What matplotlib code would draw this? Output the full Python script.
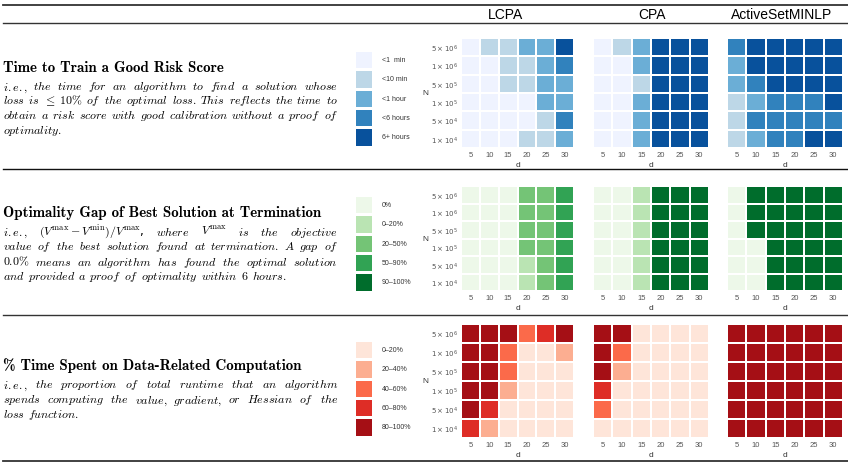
import numpy as np
import matplotlib
matplotlib.use("Agg")
import matplotlib.pyplot as plt
from matplotlib.colors import ListedColormap
from matplotlib.lines import Line2D

W, H, DPI = 848, 464, 100
SANS = "Liberation Sans"
GRAY = "#555555"

# ── Data (rows top→bottom: N = 5e6 … 1e4, columns d = 5 … 30) ────────
methods = ["LCPA", "CPA", "ActiveSetMINLP"]
d_values = [5, 10, 15, 20, 25, 30]
n_labels = [r"$5\times10^6$", r"$1\times10^6$", r"$5\times10^5$",
            r"$1\times10^5$", r"$5\times10^4$", r"$1\times10^4$"]

time_lcpa = [[0, 1, 1, 2, 2, 4],
             [0, 0, 1, 1, 2, 3],
             [0, 0, 1, 1, 2, 2],
             [0, 0, 0, 0, 2, 2],
             [0, 0, 0, 0, 1, 3],
             [0, 0, 0, 1, 1, 2]]
time_cpa = [[0, 1, 2, 4, 4, 4],
            [0, 0, 2, 4, 4, 4],
            [0, 0, 1, 4, 4, 4],
            [0, 0, 2, 4, 4, 4],
            [0, 0, 2, 4, 4, 4],
            [0, 0, 2, 4, 4, 4]]
time_asm = [[3, 4, 4, 4, 4, 4],
            [2, 4, 4, 4, 4, 4],
            [2, 3, 4, 4, 4, 4],
            [1, 2, 3, 3, 3, 4],
            [1, 3, 3, 3, 3, 3],
            [1, 2, 3, 3, 4, 4]]

gap_lcpa = [[0, 0, 0, 2, 2, 3],
            [0, 0, 0, 2, 2, 3],
            [0, 0, 0, 2, 2, 3],
            [0, 0, 0, 2, 2, 3],
            [0, 0, 0, 1, 2, 3],
            [0, 0, 0, 1, 2, 3]]
gap_cpa = [[0, 0, 1, 4, 4, 4],
           [0, 0, 1, 4, 4, 4],
           [0, 0, 1, 4, 4, 4],
           [0, 0, 1, 4, 4, 4],
           [0, 0, 1, 4, 4, 4],
           [0, 0, 1, 4, 4, 4]]
gap_asm = [[0, 4, 4, 4, 4, 4],
           [0, 4, 4, 4, 4, 4],
           [0, 4, 4, 4, 4, 4],
           [0, 0, 4, 4, 4, 4],
           [0, 0, 4, 4, 4, 4],
           [0, 0, 4, 4, 4, 4]]

data_lcpa = [[4, 4, 4, 2, 3, 4],
             [4, 4, 2, 0, 0, 1],
             [4, 4, 2, 0, 0, 0],
             [4, 4, 1, 0, 0, 0],
             [4, 3, 0, 0, 0, 0],
             [3, 1, 0, 0, 0, 0]]
data_cpa = [[4, 4, 0, 0, 0, 0],
            [4, 2, 0, 0, 0, 0],
            [4, 1, 0, 0, 0, 0],
            [3, 0, 0, 0, 0, 0],
            [2, 0, 0, 0, 0, 0],
            [0, 0, 0, 0, 0, 0]]
data_asm = [[4] * 6 for _ in range(6)]

time_levels = ["<1  min", "<10 min", "<1 hour", "<6 hours", "6+ hours"]
gap_levels = ["0%", "0\u201320%", "20\u201350%", "50\u201390%", "90\u2013100%"]
data_levels = ["0\u201320%", "20\u201340%", "40\u201360%", "60\u201380%", "80\u2013100%"]

BLUES = ["#eff3ff", "#bdd7e7", "#6baed6", "#3182bd", "#08519c"]
GREENS = ["#edf8e9", "#bae4b3", "#74c476", "#31a354", "#006d2c"]
REDS = ["#fee5d9", "#fcae91", "#fb6a4a", "#de2d26", "#a50f15"]

titles = ["Time to Train a Good Risk Score",
          "Optimality Gap of Best Solution at Termination",
          "% Time Spent on Data-Related Computation"]

# description words; "$...$" tokens are upright math, others italic
desc = [
    [["i.e.,", "the", "time", "for", "an", "algorithm", "to", "find", "a", "solution", "whose"],
     ["loss", "is", r"$\leq\;10\%$", "of", "the", "optimal", "loss.", "This", "reflects", "the", "time", "to"],
     ["obtain", "a", "risk", "score", "with", "good", "calibration", "without", "a", "proof", "of"],
     ["optimality."]],
    [["i.e.,", r"$(V^{\mathrm{max}} - V^{\mathrm{min}})/V^{\mathrm{max}}$,", "where",
      r"$V^{\mathrm{max}}$", "is", "the", "objective"],
     ["value", "of", "the", "best", "solution", "found", "at", "termination.", "A", "gap", "of"],
     ["0.0%", "means", "an", "algorithm", "has", "found", "the", "optimal", "solution"],
     ["and", "provided", "a", "proof", "of", "optimality", "within", "6", "hours."]],
    [["i.e.,", "the", "proportion", "of", "total", "runtime", "that", "an", "algorithm"],
     ["spends", "computing", "the", "value,", "gradient,", "or", "Hessian", "of", "the"],
     ["loss", "function."]],
]

# ── Layout (pixels, top-left origin) ─────────────────────────────────
col_x = [(461, 574), (593, 709), (727, 843)]
row_y = [(39, 149), (187, 292), (325, 439)]
title_y = [68, 213, 366]
line_y = [[87, 101, 116, 131], [232, 247, 262, 277], [385, 400, 415]]
legend_y0 = [51, 196, 341]
header_x = [505, 652, 782]


def rect(x0, y0, x1, y1):
    return [x0 / W, 1 - y1 / H, (x1 - x0) / W, (y1 - y0) / H]


fig = plt.figure(figsize=(W / DPI, H / DPI), dpi=DPI, facecolor="white")
renderer = fig.canvas.get_renderer()


def hline(y, color="#333333", lw=1.2):
    fig.add_artist(Line2D([3 / W, 1], [1 - y / H] * 2, transform=fig.transFigure,
                          color=color, lw=lw))


def word_text(w, size):
    if "$" in w:
        return fig.text(0, 0, w, fontsize=size, math_fontfamily="cm", va="baseline")
    s = w.replace("%", r"\%")
    return fig.text(0, 0, r"$\mathit{" + s + "}$", fontsize=size,
                    math_fontfamily="cm", va="baseline")


def justified(words, x0, x1, y, size, last):
    objs = [word_text(w, size) for w in words]
    widths = [o.get_window_extent(renderer).width for o in objs]
    if last or len(words) == 1:
        gap = 3.0
    else:
        gap = (x1 - x0 - sum(widths)) / (len(words) - 1)
    x = x0
    for o, w in zip(objs, widths):
        o.set_position((x / W, 1 - y / H))
        x += w + gap


def heatmap(x, y, vals, colors, first):
    ax = fig.add_axes(rect(x[0], y[0], x[1], y[1]))
    ax.pcolormesh(np.asarray(vals), cmap=ListedColormap(colors), vmin=-0.5, vmax=4.5,
                  edgecolors="white", linewidth=1.2)
    ax.set_xlim(0, 6)
    ax.set_ylim(6, 0)
    for s in ax.spines.values():
        s.set_visible(False)
    ax.set_xticks(np.arange(6) + 0.5)
    ax.set_xticklabels(d_values, fontsize=5.5, color=GRAY, family=SANS)
    ax.set_xlabel("d", fontsize=6, color="#333333", family=SANS, labelpad=2)
    ax.tick_params(length=0, pad=2)
    if first:
        ax.set_yticks(np.arange(6) + 0.5)
        ax.set_yticklabels(n_labels, fontsize=5, color=GRAY, math_fontfamily="dejavusans")
        ax.set_ylabel("N", fontsize=6, color="#333333", family=SANS, rotation=0,
                      labelpad=4, va="center")
    else:
        ax.set_yticks([])


def legend(y0, colors, labels):
    ax = fig.add_axes(rect(354, y0, 373, y0 + 19.3 * 5))
    ax.pcolormesh(np.arange(len(colors)).reshape(-1, 1), cmap=ListedColormap(colors),
                  vmin=-0.5, vmax=4.5, edgecolors="white", linewidth=1.0)
    ax.set_ylim(len(colors), 0)
    ax.axis("off")
    for i, lab in enumerate(labels):
        fig.text(382 / W, 1 - (y0 + 19.3 * (i + 0.5)) / H, lab, fontsize=5,
                 family=SANS, color="#333333", va="center", ha="left")


# ── Rules and headers ────────────────────────────────────────────────
hline(6, lw=1.3)
hline(24, lw=1.0)
hline(170, color="#111111", lw=1.0)
hline(316, lw=1.0)
hline(462, lw=1.3)
for m, hx in zip(methods, header_x):
    fig.text(hx / W, 1 - 15 / H, m, fontsize=10, family=SANS, ha="center", va="center")

# ── Rows ─────────────────────────────────────────────────────────────
row_data = [(time_lcpa, time_cpa, time_asm), (gap_lcpa, gap_cpa, gap_asm),
            (data_lcpa, data_cpa, data_asm)]
row_colors = [BLUES, GREENS, REDS]
row_levels = [time_levels, gap_levels, data_levels]

for r in range(3):
    fig.text(3 / W, 1 - title_y[r] / H, titles[r], family="cmb10", fontsize=10.8,
             va="center", ha="left")
    for i, words in enumerate(desc[r]):
        justified(words, 3, 338, line_y[r][i] + 3.5, 8.6, i == len(desc[r]) - 1)
    legend(legend_y0[r], row_colors[r], row_levels[r])
    for c in range(3):
        heatmap(col_x[c], row_y[r], row_data[r][c], row_colors[r], c == 0)

fig.savefig("out.png", dpi=DPI, facecolor="white")
